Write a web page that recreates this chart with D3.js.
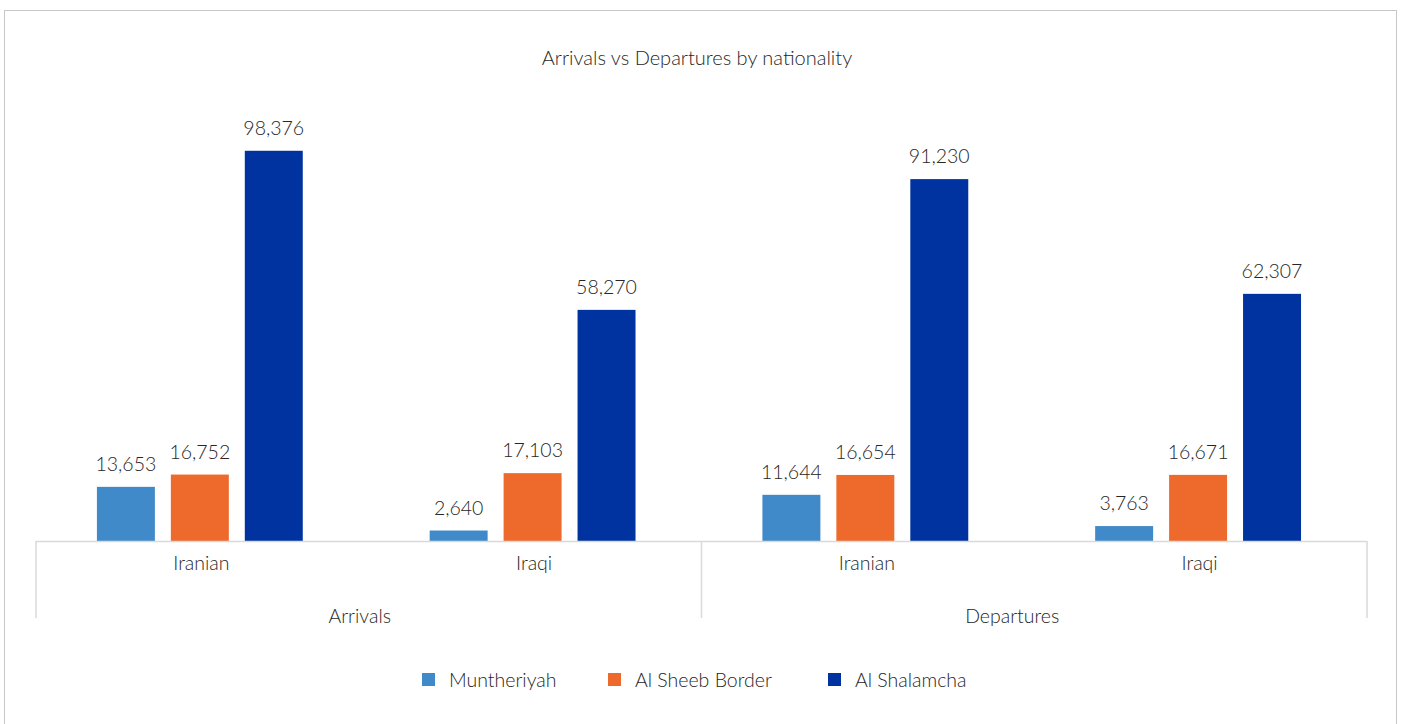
<!DOCTYPE html>
<html>
<head>
<meta charset="utf-8">
<script src="https://cdn.jsdelivr.net/npm/d3@7"></script>
<style>
  html, body { margin: 0; padding: 0; background: #fff; }
  svg text { font-family: Lato, "Open Sans", sans-serif; font-weight: 300; fill: #262626; }
</style>
</head>
<body>
<div id="chart"></div>
<script>
// data
const groups = ["Arrivals", "Departures"];
const nationalities = ["Iranian", "Iraqi"];
const seriesNames = ["Muntheriyah", "Al Sheeb Border", "Al Shalamcha"];
const muntheriyah = [13653, 2640, 11644, 3763];
const alSheeb = [16752, 17103, 16654, 16671];
const alShalamcha = [98376, 58270, 91230, 62307];
const seriesColors = ["#418ac9", "#ed6a2c", "#0033a0"];

const width = 1403, height = 724;
const plot = {left: 36, right: 1367, top: 65, bottom: 541};

const svg = d3.select("#chart").append("svg")
    .attr("width", width).attr("height", height);

// outer frame
svg.append("rect")
    .attr("x", 4.5).attr("y", 10.5)
    .attr("width", 1392).attr("height", 730)
    .attr("fill", "none").attr("stroke", "#c8c8c8");

// title
svg.append("text")
    .attr("x", 697).attr("y", 65)
    .attr("text-anchor", "middle")
    .style("font-size", "20px")
    .text("Arrivals vs Departures by nationality");

// categories: group x nationality
const cats = [];
groups.forEach(g => nationalities.forEach(n => cats.push({group: g, nat: n, key: g + "|" + n})));
cats.forEach((c, i) => {
    c.values = [muntheriyah[i], alSheeb[i], alShalamcha[i]];
});

const x0 = d3.scaleBand()
    .domain(cats.map(c => c.key))
    .range([plot.left, plot.right])
    .padding(0);

const x1 = d3.scaleBand()
    .domain(seriesNames)
    .range([0, x0.bandwidth()])
    .paddingInner(0.216)
    .paddingOuter(0.858)
    .align(0.48);

const y = d3.scaleLinear()
    .domain([0, 120000])
    .range([plot.bottom, plot.top]);

const fmt = d3.format(",");

// bars
const catG = svg.selectAll(".cat")
    .data(cats)
    .enter().append("g")
    .attr("class", "cat")
    .attr("transform", d => "translate(" + x0(d.key) + ",0)");

catG.selectAll("rect")
    .data(d => d.values.map((v, i) => ({name: seriesNames[i], value: v, color: seriesColors[i]})))
    .enter().append("rect")
    .attr("x", d => x1(d.name))
    .attr("y", d => y(d.value))
    .attr("width", x1.bandwidth())
    .attr("height", d => y(0) - y(d.value))
    .attr("fill", d => d.color);

catG.selectAll(".val")
    .data(d => d.values.map((v, i) => ({name: seriesNames[i], value: v})))
    .enter().append("text")
    .attr("class", "val")
    .attr("x", d => x1(d.name) + x1.bandwidth() / 2)
    .attr("y", d => y(d.value) - 16)
    .attr("text-anchor", "middle")
    .style("font-size", "19.5px")
    .text(d => fmt(d.value));

// axis line and dividers
const lineColor = "#d9d9d9";
svg.append("line")
    .attr("x1", plot.left).attr("x2", plot.right)
    .attr("y1", plot.bottom + 0.5).attr("y2", plot.bottom + 0.5)
    .attr("stroke", lineColor).attr("stroke-width", 1.5);

const dividers = [plot.left, x0(cats[2].key), plot.right];
svg.selectAll(".divider")
    .data(dividers)
    .enter().append("line")
    .attr("class", "divider")
    .attr("x1", d => d).attr("x2", d => d)
    .attr("y1", plot.bottom).attr("y2", 618)
    .attr("stroke", lineColor).attr("stroke-width", 1.5);

// nationality labels
svg.selectAll(".natlabel")
    .data(cats)
    .enter().append("text")
    .attr("class", "natlabel")
    .attr("x", d => x0(d.key) + x0.bandwidth() / 2 - 1)
    .attr("y", 570)
    .attr("text-anchor", "middle")
    .style("font-size", "19.5px")
    .text(d => d.nat);

// group labels (Excel doesn't quite centre these)
const groupShift = [-9, -22];
svg.selectAll(".grouplabel")
    .data(groups)
    .enter().append("text")
    .attr("class", "grouplabel")
    .attr("x", (d, i) => x0(cats[i * 2].key) + x0.bandwidth() + groupShift[i])
    .attr("y", 623)
    .attr("text-anchor", "middle")
    .style("font-size", "19.5px")
    .text(d => d);

// legend
const legendX = [422, 608, 828];
const legend = svg.selectAll(".legend")
    .data(seriesNames)
    .enter().append("g")
    .attr("class", "legend")
    .attr("transform", (d, i) => "translate(" + legendX[i] + ",673)");

legend.append("rect")
    .attr("width", 13).attr("height", 13)
    .attr("fill", (d, i) => seriesColors[i]);

legend.append("text")
    .attr("x", 27).attr("y", 14)
    .style("font-size", "19.5px")
    .text(d => d);
</script>
</body>
</html>
